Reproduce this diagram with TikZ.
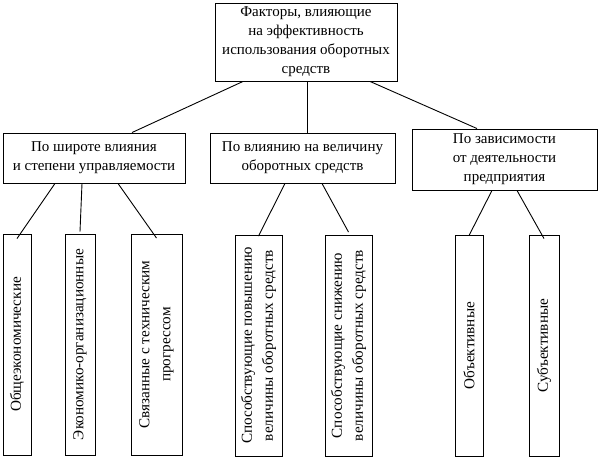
\documentclass[tikz,border=0pt]{standalone}
\usepackage{fontspec}
\setmainfont{Liberation Serif}

\begin{document}
\begin{tikzpicture}[x=1pt,y=1pt,
    box/.style={draw, line width=0.9pt, align=center, inner sep=2pt, font=\fontsize{15}{19}\selectfont},
    leaf/.style={box, rotate=90, minimum width=221, font=\fontsize{15.2}{21}\selectfont}]
    \useasboundingbox (0,0) rectangle (600,-460);
    \node[box, minimum width=182, minimum height=78] (top) at (306,-42) {Факторы, влияющие\\на эффективность\\использования оборотных\\средств}; % 顶层
    \node[box, minimum width=182, minimum height=50] (width) at (94,-158) {По широте влияния\\и степени управляемости};
    \node[box, minimum width=185, minimum height=50] (size) at (302.5,-158) {По влиянию на величину\\оборотных средств};
    \node[box, minimum width=185, minimum height=61] (dep) at (504.5,-159.5) {По зависимости\\от деятельности\\предприятия};
    % 竖排的框: east 在上方
    \node[leaf, minimum height=28] (gen) at (17,-344.5) {Общеэкономические};
    \node[leaf, minimum height=30] (org) at (80,-344.5) {Экономико-организационные};
    \node[leaf, minimum height=51] (tech) at (156.5,-344.5) {Связанные с техническим\\прогрессом};
    \node[leaf, minimum height=47] (up) at (258.5,-345.5) {Способствующие повышению\\величины оборотных средств};
    \node[leaf, minimum height=47] (down) at (348.5,-345.5) {Способствующие снижению\\величины оборотных средств};
    \node[leaf, minimum height=28] (obj) at (469,-345.5) {Объективные};
    \node[leaf, minimum height=30] (subj) at (544,-345.5) {Субъективные};
    \draw[line width=0.9pt] ([xshift=-63]top.south) -- ([xshift=38]width.north);
    \draw[line width=0.9pt] ([xshift=1]top.south) -- ([xshift=1]top.south |- size.north);
    \draw[line width=0.9pt] ([xshift=64]top.south) -- ([xshift=-27.5]dep.north);
    \draw[line width=0.9pt] ([xshift=-39]width.south) -- ([yshift=-5]gen.east);
    \draw[line width=0.9pt] ([xshift=-12]width.south) -- ([yshift=2]org.east);
    \draw[line width=0.9pt] ([xshift=24]width.south) -- ([yshift=-4.5]tech.east);
    \draw[line width=0.9pt] ([xshift=-17.5]size.south) -- ([yshift=-1.5]up.east);
    \draw[line width=0.9pt] ([xshift=19.5]size.south) -- ([yshift=2.5]down.east);
    \draw[line width=0.9pt] ([xshift=-12.5]dep.south) -- ([yshift=-1]obj.east);
    \draw[line width=0.9pt] ([xshift=12.5]dep.south) -- ([yshift=-4]subj.east);
\end{tikzpicture}
\end{document}
